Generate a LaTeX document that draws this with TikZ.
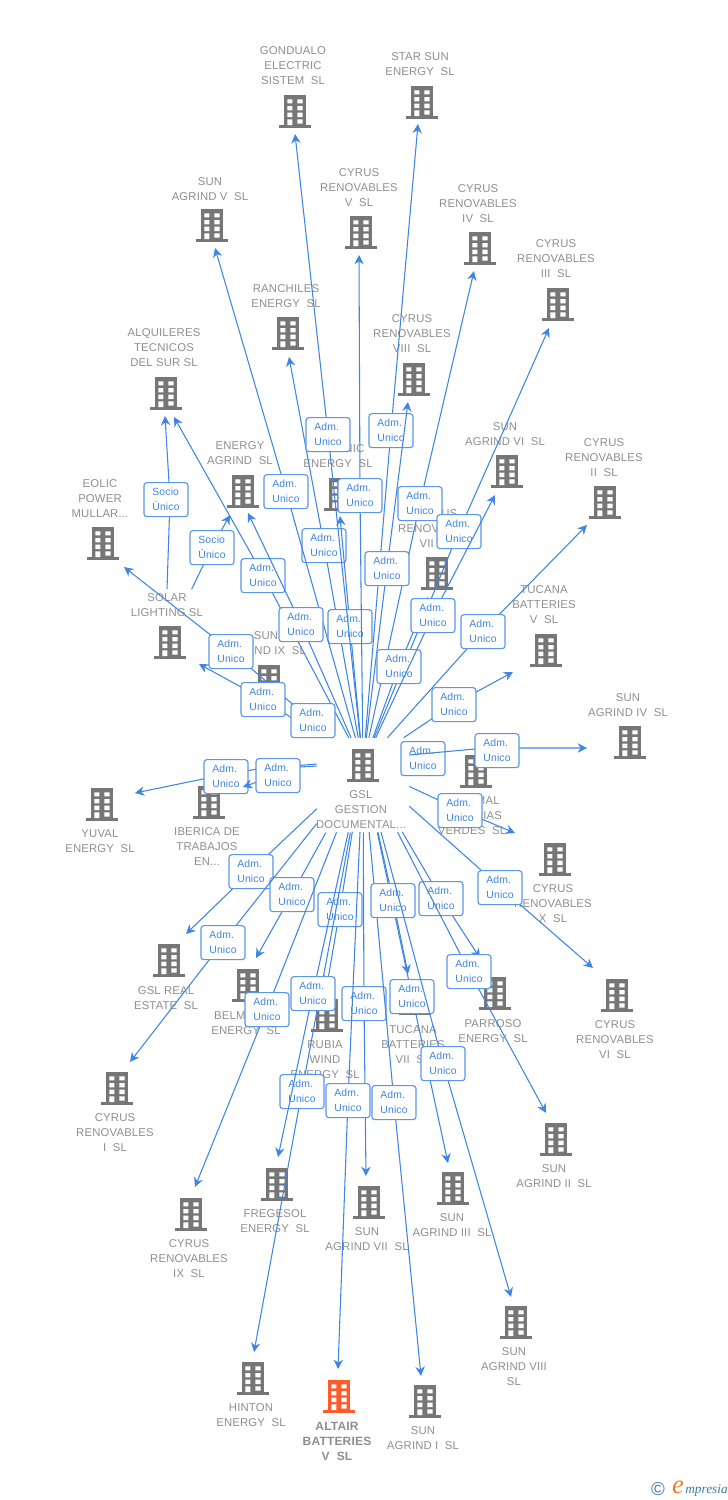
\documentclass[tikz,border=0pt]{standalone}
\usepackage{fontspec}
\setmainfont[LetterSpace=1.5]{Liberation Sans}
\newfontfamily\logofont{Liberation Serif}
\usetikzlibrary{arrows.meta}
\definecolor{bldggray}{HTML}{767676}
\definecolor{txtgray}{HTML}{8E8E8E}
\definecolor{linkblue}{HTML}{3F85E2}
\definecolor{boxblue}{HTML}{5A97E8}
\definecolor{altairred}{HTML}{FF5A2B}
\definecolor{logoblue}{HTML}{3F7C9C}
\definecolor{logoorange}{HTML}{F08020}
\tikzset{
  pics/bldg/.style={code={
    \fill[#1] (-11,-16) rectangle (11,14);
    \fill[#1] (-16,14) rectangle (16,16.5);
    \fill[white] (-7.7,-11.7) rectangle (-2.7,-7.7) (2.3,-11.7) rectangle (7.7,-7.7);
    \fill[white] (-7.7,-5) rectangle (-2.7,-0.7) (2.3,-5) rectangle (7.7,-0.7);
    \fill[white] (-7.7,1.7) rectangle (-2.7,6) (2.3,1.7) rectangle (7.7,6);
    \fill[white] (-7.7,8.3) rectangle (-2.7,14) (2.3,8.3) rectangle (7.7,12.5);
  }},
  bldgnode/.style={minimum width=32*0.75pt,minimum height=32*0.75pt,inner sep=0},
  cotext/.style={text=txtgray,align=center,inner sep=0,yshift=-0.75pt,font=\fontsize{8.5}{11.25}\selectfont},
  adm/.style={draw=boxblue,fill=white,line width=0.85pt,rounded corners=2.2pt,text=linkblue,
    align=left,inner sep=0,minimum width=44*0.75pt,minimum height=34*0.75pt,yshift=-0.5pt,
    font=\fontsize{7.8}{11.25}\selectfont},
  link/.style={draw=linkblue,line width=0.8pt,-{Stealth[length=7pt,width=7pt]}},
}
\begin{document}
\begin{tikzpicture}[x=0.75pt,y=-0.75pt]
  \useasboundingbox (0,0) rectangle (728,1500);
  % buildings with their names
  \foreach \n/\bx/\by/\tx/\ty/\txt in {
    gondualo/295/111/293/65/{GONDUALO\\ELECTRIC\\SISTEM~~SL},
    starsun/422/102/420/63/{STAR SUN\\ENERGY~~SL},
    agrindv/212/225/210/188/{SUN\\AGRIND V~~SL},
    cyrusv/361/232/359/187/{CYRUS\\RENOVABLES\\V~~SL},
    cyrusiv/480/248/478/203/{CYRUS\\RENOVABLES\\IV~~SL},
    cyrusiii/558/304/556/258/{CYRUS\\RENOVABLES\\III~~SL},
    ranchiles/288/333/286/295/{RANCHILES\\ENERGY~~SL},
    cyrusviii/414/379/412/333/{CYRUS\\RENOVABLES\\VIII~~SL},
    alquileres/166/393/164/347/{ALQUILERES\\TECNICOS\\DEL SUR SL},
    agrindvi/507/471/505/433/{SUN\\AGRIND VI~~SL},
    cyrusii/605/502/604/457/{CYRUS\\RENOVABLES\\II~~SL},
    eolicpower/103/543/100/498/{EOLIC\\POWER\\MULLAR...},
    energyagrind/243/491/240/452/{ENERGY\\AGRIND~~SL},
    oceanic/340/494/338/455/{OCEANIC\\ENERGY~~SL},
    cyrusvii/437/573/437/528/{CYRUS\\RENOVABLES\\VII~~SL},
    solar/170/642/167/604/{SOLAR\\LIGHTING SL},
    tucanav/546/650/544/604/{TUCANA\\BATTERIES\\V~~SL},
    agrindix/269/681/266/642/{SUN\\AGRIND IX~~SL},
    agrindiv/630/742/628/704/{SUN\\AGRIND IV~~SL},
    thermal/476/771/472/815/{THERMAL\\ENERGIAS\\VERDES~~SL},
    yuval/102/804/100/840/{YUVAL\\ENERGY~~SL},
    iberica/209/802/207/846/{IBERICA DE\\TRABAJOS\\EN...},
    cyrusx/555/859/553/903/{CYRUS\\RENOVABLES\\X~~SL},
    gslreal/169/960/166/997/{GSL REAL\\ESTATE~~SL},
    belmonte/248/985/246/1022/{BELMONTE\\ENERGY~~SL},
    rubia/327/1015/325/1059/{RUBIA\\WIND\\ENERGY~~SL},
    tucanavii/415/998/413/1044/{TUCANA\\BATTERIES\\VII~~SL},
    parroso/495/993/493/1030/{PARROSO\\ENERGY~~SL},
    cyrusvi/617/995/615/1039/{CYRUS\\RENOVABLES\\VI~~SL},
    cyrusi/117/1088/115/1132/{CYRUS\\RENOVABLES\\I~~SL},
    agrindii/556/1139/554/1175/{SUN\\AGRIND II~~SL},
    agrindiii/453/1188/452/1224/{SUN\\AGRIND III~~SL},
    cyrusix/191/1214/189/1258/{CYRUS\\RENOVABLES\\IX~~SL},
    fregesol/277/1184/275/1220/{FREGESOL\\ENERGY~~SL},
    agrindvii/369/1202/367/1238/{SUN\\AGRIND VII~~SL},
    agrindviii/516/1322/514/1366/{SUN\\AGRIND VIII\\SL},
    hinton/253/1378/251/1414/{HINTON\\ENERGY~~SL},
    agrindi/425/1401/423/1437/{SUN\\AGRIND I~~SL}} {
    \node[bldgnode] (\n) at (\bx,\by) {};
    \pic at (\bx,\by) {bldg=bldggray};
    \node[cotext] (\n-txt) at (\tx,\ty) {\txt};
  }
  \node[bldgnode] (altair) at (339,1396) {};
  \pic at (339,1396) {bldg=altairred};
  \node[cotext,font=\fontsize{9}{11.25}\selectfont\bfseries] (altair-txt) at (337,1440) {ALTAIR\\BATTERIES\\V~~SL};
  % the centre company, lines stop at its border
  \node[minimum width=92*0.75pt,minimum height=54*0.75pt,inner sep=0] (gsl) at (363,765) {};
  \pic at (363,765) {bldg=bldggray};
  \node[cotext] (gsl-txt) at (361,809) {GSL\\GESTION\\DOCUMENTAL...};
  % labels are drawn with their line, the next lines pass over them
  \node[adm] (admthermal) at (423,758) {Adm.\\Unico};
  \foreach \n/\sh/\lx/\ly/\ex/\ey in {
    ranchiles/0/324/545/289/357,
    oceanic/0/350/626/340/516,
    agrindv/0/286/491/215/248,
    gondualo/0/328/434/295/134,
    cyrusv/0/360/495/359/255,
    starsun/0/391/430/418/124,
    cyrusiv/0/420/503/474/271,
    cyrusviii/0/387/568/408/402,
    cyrusiii/0/459/531/549/328,
    cyrusvii/0/399/666/428/597,
    agrindvi/0/433/615/495/495,
    cyrusii/0/483/631/587/525,
    tucanav/0/454/704/513/672,
    alquileres/0/263/575/174/417,
    energyagrind/0/301/624/248/513,
    eolicpower/0/231/651/124/567,
    solar/0/263/699/199/664,
    agrindix/0/313/720/291/706,
    cyrusx/0/460/810/515/833,
    cyrusvi/21/500/887/593/968,
    gslreal/24/251/871/186/934,
    belmonte/46/292/894/256/958,
    rubia/40/340/909/327/985,
    cyrusi/40/223/942/130/1062,
    cyrusix/43/267/1009/195/1187,
    agrindvii/40/364/1003/366/1176,
    altair/40/348/1100/338/1369,
    agrindi/40/394/1102/421/1376,
    hinton/41/302/1091/254/1352,
    fregesol/41/313/993/278/1157,
    agrindiii/41/412/996/448/1163,
    tucanavii/41/393/900/408/974,
    agrindviii/41/443/1063/511/1297,
    parroso/46/441/898/480/958,
    agrindii/45/469/971/546/1113} {
    \coordinate (c\n) at (\lx,\ly);
    \coordinate (e\n) at (\ex,\ey);
    \draw[link,shorten <=\sh*0.75pt] (gsl) -- (c\n) -- (e\n);
    \node[adm] (adm\n) at (c\n) {Adm.\\Unico};
  }
  % the three that leave the side of the centre company
  \coordinate (eagrindiv) at (587,748);
  \draw[link] ([yshift=7.5pt]gsl.east) -- (475,749) -- (520,748) -- (eagrindiv);
  \node[adm] (admagrindiv) at (497,750) {Adm.\\Unico};
  \coordinate (eyuval) at (135,793);
  \draw[link] ([yshift=0.75pt]gsl.west) -- (257,769) -- (203,779) -- (eyuval);
  \node[adm] (admyuval) at (226,776) {Adm.\\Unico};
  \coordinate (eiberica) at (243,787);
  \draw[link] ([yshift=-0.75pt]gsl.west) -- (300,767) -- (257,782) -- (eiberica);
  \node[adm] (admiberica) at (278,775) {Adm.\\Unico};
  % owner links of the solar company
  \coordinate (esocioa) at (165,416);
  \coordinate (esociob) at (230,515);
  \draw[link] ([yshift=3pt]solar-txt.north) -- (170,499) -- (esocioa);
  \node[adm] (socioa) at (166,499) {Socio\\Único};
  \draw[link] ([xshift=18.5pt,yshift=3pt]solar-txt.north) -- (212,547) -- (esociob);
  \node[adm] (sociob) at (212,547) {Socio\\Único};
  % logo
  \node[text=logoblue,inner sep=0,font=\fontsize{14}{14}\selectfont] (logoc) at (658,1489) {©};
  \node[text=logoorange,inner sep=0,font=\logofont\fontsize{20}{20}\selectfont\itshape] (logoe) at (678,1487) {e};
  \node[text=logoblue,inner sep=0,anchor=west,font=\logofont\fontsize{10}{10}\selectfont\itshape] (logotxt) at (685,1490) {mpresia};
\end{tikzpicture}
\end{document}
